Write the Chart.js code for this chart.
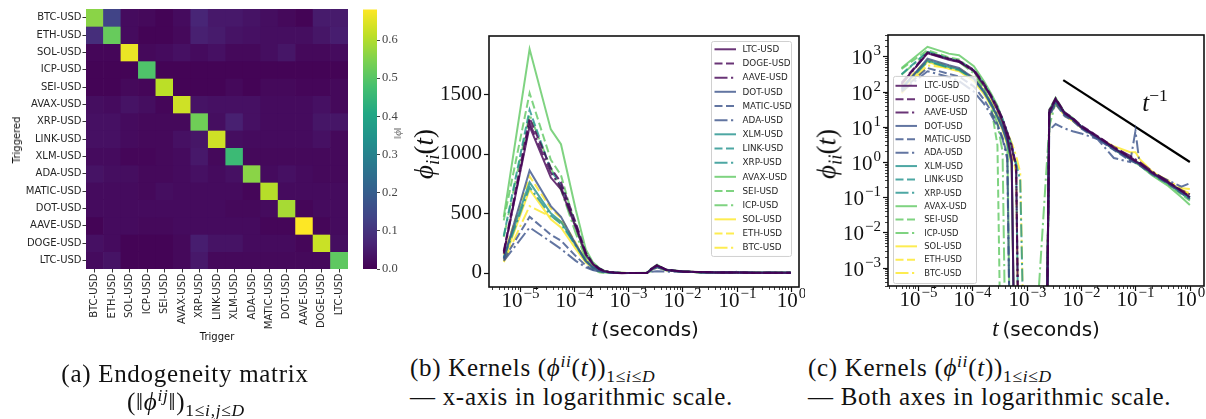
<!DOCTYPE html>
<html>
<head>
<meta charset="utf-8">
<script src="https://cdn.jsdelivr.net/npm/chart.js@4"></script>
<style>
  body { margin: 0; background: #fff; }
  #fig { position: relative; width: 1206px; height: 419px; overflow: hidden; }
  canvas { position: absolute; top: 0; }
  .t { position: absolute; white-space: nowrap; color: #111; line-height: 1; }
  .mid { transform: translate(-50%, -50%); }
  .rot { transform: translate(-50%, -50%) rotate(-90deg); }
  .serif { font-family: "Liberation Serif", "DejaVu Serif", serif; }
  .sans { font-family: "DejaVu Sans", sans-serif; }
  .cap { position: absolute; white-space: nowrap; font-family: "Liberation Serif", serif; font-size: 25px;
         line-height: 29px; letter-spacing: 0.7px; color: #111; }
  sup, sub { font-size: 70%; line-height: 0; }
</style>
</head>
<body>
<div id="fig">
  <canvas id="heat" width="360" height="345" style="left:0"></canvas>
  <canvas id="cbar" width="45" height="345" style="left:355px"></canvas>
  <canvas id="lin" width="405" height="345" style="left:400px"></canvas>
  <canvas id="log" width="401" height="345" style="left:805px"></canvas>

  <div class="t sans rot" style="left:17px;top:140px;font-size:10px">Triggered</div>
  <div class="t sans mid" style="left:217px;top:337px;font-size:10px">Trigger</div>
  <div class="t serif rot" style="left:397px;top:133px;font-size:11px;color:#666">‖<i>ϕ</i>‖</div>

  <div class="t serif rot" style="left:424px;top:154px;font-size:27px"><i>ϕ</i><sub><i>ii</i></sub>(<i>t</i>)</div>
  <div class="t serif rot" style="left:827px;top:154px;font-size:27px"><i>ϕ</i><sub><i>ii</i></sub>(<i>t</i>)</div>
  <div class="t mid" style="left:645px;top:328px"><i class="serif" style="font-size:23px">t</i> <span class="sans" style="font-size:20px">(seconds)</span></div>
  <div class="t mid" style="left:1046px;top:328px"><i class="serif" style="font-size:23px">t</i> <span class="sans" style="font-size:20px">(seconds)</span></div>
  <div class="t serif mid" style="left:1155px;top:102px;font-size:25px"><i>t</i><sup>−1</sup></div>

  <div class="cap" style="left:185px;top:359px;transform:translateX(-50%)">(a) Endogeneity matrix</div>
  <div class="cap" style="left:186px;top:387px;transform:translateX(-50%)">(‖<i>ϕ</i><sup><i>ij</i></sup>‖)<sub>1≤<i>i</i>,<i>j</i>≤<i>D</i></sub></div>
  <div class="cap" style="left:410px;top:353px">(b) Kernels (<i>ϕ</i><sup><i>ii</i></sup>(<i>t</i>))<sub>1≤<i>i</i>≤<i>D</i></sub></div>
  <div class="cap" style="left:410px;top:382px">— x-axis in logarithmic scale.</div>
  <div class="cap" style="left:808px;top:353px">(c) Kernels (<i>ϕ</i><sup><i>ii</i></sup>(<i>t</i>))<sub>1≤<i>i</i>≤<i>D</i></sub></div>
  <div class="cap" style="left:808px;top:382px">— Both axes in logarithmic scale.</div>
</div>

<script>
const SERIF = '"Liberation Serif", "DejaVu Serif", serif';
const SANS = '"DejaVu Sans", sans-serif';
const INK = '#111';

// assets, in the order used by the endogeneity matrix (rows = triggered, cols = trigger)
const assets = ['BTC-USD', 'ETH-USD', 'SOL-USD', 'ICP-USD', 'SEI-USD', 'AVAX-USD', 'XRP-USD', 'LINK-USD',
                'XLM-USD', 'ADA-USD', 'MATIC-USD', 'DOT-USD', 'AAVE-USD', 'DOGE-USD', 'LTC-USD'];

const endo = [
  [0.56, 0.135, 0.02, 0.015, 0.005, 0.02, 0.07, 0.045, 0.045, 0.035, 0.025, 0.015, 0.005, 0.05, 0.05],
  [0.09, 0.52, 0.02, 0.005, 0.005, 0.015, 0.06, 0.05, 0.035, 0.03, 0.025, 0.025, 0.025, 0.04, 0.055],
  [0.01, 0.01, 0.66, 0.015, 0.02, 0.03, 0.02, 0.03, 0.015, 0.015, 0.025, 0.04, 0.015, 0.015, 0.02],
  [0.005, 0.005, 0.005, 0.49, 0.005, 0.005, 0.005, 0.005, 0.005, 0.005, 0.005, 0.005, 0.005, 0.005, 0.005],
  [0.005, 0.005, 0.015, 0.01, 0.61, 0.005, 0.005, 0.005, 0.015, 0.005, 0.015, 0.015, 0.01, 0.01, 0.015],
  [0.025, 0.02, 0.035, 0.025, 0.01, 0.63, 0.035, 0.03, 0.03, 0.03, 0.02, 0.02, 0.02, 0.03, 0.015],
  [0.03, 0.03, 0.02, 0.015, 0.015, 0.015, 0.53, 0.025, 0.06, 0.03, 0.02, 0.02, 0.02, 0.04, 0.04],
  [0.03, 0.03, 0.02, 0.015, 0.015, 0.03, 0.04, 0.63, 0.025, 0.02, 0.02, 0.02, 0.02, 0.03, 0.015],
  [0.02, 0.02, 0.01, 0.01, 0.015, 0.02, 0.045, 0.015, 0.46, 0.015, 0.015, 0.015, 0.015, 0.015, 0.015],
  [0.035, 0.025, 0.025, 0.015, 0.015, 0.02, 0.03, 0.02, 0.03, 0.56, 0.02, 0.03, 0.02, 0.015, 0.015],
  [0.02, 0.02, 0.02, 0.015, 0.025, 0.02, 0.02, 0.02, 0.02, 0.01, 0.605, 0.02, 0.02, 0.02, 0.02],
  [0.02, 0.02, 0.02, 0.02, 0.02, 0.02, 0.02, 0.02, 0.015, 0.015, 0.02, 0.59, 0.01, 0.02, 0.02],
  [0.005, 0.02, 0.02, 0.015, 0.015, 0.02, 0.02, 0.02, 0.02, 0.02, 0.01, 0.01, 0.68, 0.01, 0.02],
  [0.03, 0.02, 0.005, 0.005, 0.005, 0.015, 0.055, 0.035, 0.035, 0.02, 0.02, 0.02, 0.01, 0.625, 0.025],
  [0.02, 0.035, 0.005, 0.005, 0.005, 0.015, 0.045, 0.015, 0.015, 0.015, 0.015, 0.015, 0.015, 0.015, 0.51]
];
const cbarTicks = [0, 0.1, 0.2, 0.3, 0.4, 0.5, 0.6];

// kernel estimates phi_ii(t), t in seconds
const times = [5e-6, 1.5e-5, 3.7e-5, 5.7e-5, 1.07e-4, 1.64e-4, 2.2e-4, 2.9e-4, 3.6e-4, 4.4e-4, 5.3e-4, 6.4e-4,
               7.6e-4, 1e-3, 2.2e-3, 2.6e-3, 3.4e-3, 5e-3, 7e-3, 1e-2, 2e-2, 4e-2, 8e-2, 0.1, 0.12, 0.2, 0.4, 0.7, 1];
const ltc   = [170, 1230, 800, 700, 380, 150, 70, 30, 14, 5, 1.2, -3, -4, -3, -2, 25, 62, 24, 17, 10, 5.2, 2.5, 1.3, 1.05, 0.9, 0.5, 0.26, 0.15, 0.1];
const doge  = [180, 1300, 880, 760, 420, 170, 80, 36, 17, 7, 3, 0.8, -3, -3, -2, 30, 65, 26, 18, 11, 5.5, 2.7, 1.4, 1.1, 0.95, 0.52, 0.27, 0.16, 0.12];
const aave  = [160, 1260, 840, 720, 400, 160, 75, 33, 16, 6.5, 2.5, 0.7, -3, -3, -2, 28, 60, 25, 17, 10.5, 5.4, 2.6, 1.5, 1.2, 1.0, 0.55, 0.28, 0.15, 0.11];
const dot   = [120, 860, 560, 470, 240, 100, 46, 20, 9, 4, 1, -3, -3, -3, -2, 22, 50, 22, 16, 9.5, 4.8, 2.3, 1.2, 1.0, 0.85, 0.48, 0.25, 0.14, 0.1];
const matic = [110, 470, 320, 270, 140, 60, 28, 12, 5, 1.5, -2, -3, -3, -3, -2, 20, 45, 20, 15, 9, 4.5, 2.2, 1.1, 0.95, 0.8, 0.45, 0.24, 0.13, 0.09];
const ada   = [100, 380, 260, 200, 100, 45, 22, 10, 4.5, 1.2, -2, -3, -3, -3, -2, 8, 12, 9, 7.5, 6.5, 4.5, 1.3, 1.0, 7.7, 0.8, 0.5, 0.3, 0.2, 0.25];
const xlm   = [130, 760, 500, 430, 230, 95, 44, 19, 9, 3.5, 0.9, -3, -3, -3, -2, 26, 58, 23, 17, 10, 5, 2.4, 1.25, 1.0, 0.88, 0.48, 0.25, 0.13, 0.09];
const link  = [310, 1370, 860, 740, 400, 165, 78, 35, 17, 7, 3, 0.8, -3, -3, -2, 27, 60, 25, 17, 10.5, 5.2, 2.5, 1.3, 1.05, 0.9, 0.5, 0.26, 0.15, 0.1];
const xrp   = [120, 720, 480, 410, 230, 100, 48, 22, 11, 5, 2.2, 0.9, 0.3, -3, -2, 24, 52, 22, 16, 9.8, 5, 2.4, 1.3, 1.05, 0.9, 0.48, 0.26, 0.14, 0.1];
const avax  = [470, 1880, 1205, 1080, 530, 196, 90, 40, 16, 4, -2, -3, -3, -3, -2, 30, 67, 25, 18, 10, 5, 2.3, 1.2, 0.95, 0.8, 0.42, 0.21, 0.1, 0.06];
const sei   = [440, 1510, 950, 820, 380, 130, 40, 3, -3, -3, -3, -3, -3, -3, -2, 26, 58, 24, 17, 10, 5, 2.4, 1.2, 1.0, 0.85, 0.46, 0.23, 0.12, 0.08];
const icp   = [300, 1330, 880, 700, 330, 120, 45, 12, 2, -3, -3, -3, -3, -3, 0.2, 10, 50, 23, 17, 10, 5, 2.4, 1.25, 1.0, 0.85, 0.46, 0.24, 0.13, 0.09];
const sol   = [100, 700, 450, 380, 200, 85, 40, 18, 8, 3, 0.8, -3, -3, -3, -2, 22, 48, 21, 15, 9.5, 5, 2.8, 1.9, 1.9, 1.2, 0.55, 0.27, 0.15, 0.12];
const eth   = [150, 810, 540, 460, 250, 105, 50, 22, 11, 4.5, 1.8, 0.5, -3, -3, -2, 24, 55, 22, 16, 10, 5, 2.4, 1.3, 1.05, 0.9, 0.5, 0.27, 0.16, 0.13];
const btc   = [90, 560, 470, 430, 240, 110, 55, 26, 13, 7, 3.5, 1.5, 0.5, -3, -2, 20, 45, 21, 15, 9.5, 5, 2.5, 1.3, 1.1, 0.95, 0.52, 0.3, 0.18, 0.17];

// reference slope t^-1
const slopeT = [0.0047, 1];
const slopeY = [213, 1];

const linTicks = [0, 500, 1000, 1500];

const series = [
  ['LTC-USD', ltc], ['DOGE-USD', doge], ['AAVE-USD', aave],
  ['DOT-USD', dot], ['MATIC-USD', matic], ['ADA-USD', ada],
  ['XLM-USD', xlm], ['LINK-USD', link], ['XRP-USD', xrp],
  ['AVAX-USD', avax], ['SEI-USD', sei], ['ICP-USD', icp],
  ['SOL-USD', sol], ['ETH-USD', eth], ['BTC-USD', btc]
];

const VIRIDIS = ['#440154', '#482475', '#414487', '#355f8d', '#2a788e', '#21918c',
                 '#22a884', '#44bf70', '#7ad151', '#bddf26', '#fde725'];
function hexRgb(h) { return [1, 3, 5].map(i => parseInt(h.slice(i, i + 2), 16)); }
function viridis(f, alpha = 1) {
  f = Math.max(0, Math.min(1, f));
  const p = f * (VIRIDIS.length - 1), i = Math.min(Math.floor(p), VIRIDIS.length - 2), t = p - i;
  const a = hexRgb(VIRIDIS[i]), b = hexRgb(VIRIDIS[i + 1]);
  const c = a.map((v, k) => Math.round(v + (b[k] - v) * t));
  return `rgba(${c[0]},${c[1]},${c[2]},${alpha})`;
}

Chart.defaults.animation = false;
Chart.defaults.events = [];
Chart.defaults.plugins.legend.display = false;
Chart.defaults.plugins.tooltip.enabled = false;

// ---------- (a) endogeneity matrix ----------
const vmax = Math.max(...endo.flat());

new Chart(document.getElementById('heat'), {
  type: 'bar',
  data: {
    labels: assets,
    datasets: endo.map((row, i) => ({
      data: assets.map(() => [i, i + 1]),
      backgroundColor: row.map(v => viridis(v / vmax)),
      grouped: false, barPercentage: 1, categoryPercentage: 1, borderWidth: 0
    }))
  },
  options: {
    responsive: false,
    layout: { padding: { top: 9, right: 12, left: 0, bottom: 0 } },
    scales: {
      x: {
        grid: { offset: false, drawOnChartArea: false, tickLength: 3.5, color: '#333' },
        border: { display: false },
        ticks: { autoSkip: false, minRotation: 90, maxRotation: 90, padding: 1, color: '#262626',
                 font: { family: SANS, size: 10 } },
        afterFit: s => { s.height = 76; }
      },
      y: {
        min: 0, max: assets.length, reverse: true,
        afterBuildTicks: s => { s.ticks = assets.map((_, i) => ({ value: i + 0.5 })); },
        grid: { drawOnChartArea: false, tickLength: 3.5, color: '#333' },
        border: { display: false },
        ticks: { callback: (v, i) => assets[i], padding: 1, color: '#262626', font: { family: SANS, size: 10 } },
        afterFit: s => { s.width = 86; }
      }
    }
  }
});

// colour bar
new Chart(document.getElementById('cbar'), {
  type: 'bar',
  data: { labels: [''], datasets: [] },
  options: {
    responsive: false,
    layout: { padding: { top: 9, left: 8, bottom: 76, right: 0 } },
    scales: {
      x: { display: false },
      y: {
        position: 'right', min: 0, max: vmax,
        afterBuildTicks: s => { s.ticks = cbarTicks.map(v => ({ value: v })); },
        grid: { drawOnChartArea: false, tickLength: 3, color: '#444' },
        border: { display: false },
        ticks: { callback: v => v.toFixed(1), padding: 2, color: '#444', font: { family: SERIF, size: 12.5 } },
        afterFit: s => { s.width = 23; }
      }
    }
  },
  plugins: [{
    id: 'cbarFill',
    beforeDraw(chart) {
      const { ctx, chartArea: a } = chart;
      const g = ctx.createLinearGradient(0, a.bottom, 0, a.top);
      VIRIDIS.forEach((c, i) => g.addColorStop(i / (VIRIDIS.length - 1), c));
      ctx.fillStyle = g;
      ctx.fillRect(a.left, a.top, a.width, a.height);
    }
  }]
});

// ---------- (b), (c) kernels ----------
function tickList(s) {
  if (s.type !== 'logarithmic') return s.ticks.map(t => ({ v: t.value, major: true }));
  const out = [];
  const k0 = Math.floor(Math.log10(s.min)), k1 = Math.ceil(Math.log10(s.max));
  for (let k = k0; k <= k1; k++) {
    for (let m = 1; m <= 9; m++) {
      const v = m * Math.pow(10, k);
      if (v >= s.min && v <= s.max) out.push({ v, major: m === 1, k });
    }
  }
  return out;
}

function drawPow(ctx, x, y, k, align) {
  const base = '10', exp = (k < 0 ? '\u2212' : '') + Math.abs(k);
  ctx.font = `21px ${SERIF}`;
  const wb = ctx.measureText(base).width;
  ctx.font = `15px ${SERIF}`;
  const we = ctx.measureText(exp).width;
  const total = wb + 1 + we;
  const left = align === 'center' ? x - total / 2 : x - total;
  ctx.textAlign = 'left';
  ctx.textBaseline = 'alphabetic';
  ctx.font = `21px ${SERIF}`;
  ctx.fillText(base, left, y);
  ctx.font = `15px ${SERIF}`;
  ctx.fillText(exp, left + wb + 1, y - 9);
}

const axesFrame = {
  id: 'axesFrame',
  afterDatasetsDraw(chart) {
    const { ctx, chartArea: a, scales } = chart;
    ctx.save();
    ctx.strokeStyle = INK;
    ctx.fillStyle = INK;
    for (const t of tickList(scales.x)) {
      const px = Math.round(scales.x.getPixelForValue(t.v)) + 0.5;
      ctx.lineWidth = t.major ? 1.2 : 0.8;
      ctx.beginPath(); ctx.moveTo(px, a.bottom); ctx.lineTo(px, a.bottom + (t.major ? 5 : 3)); ctx.stroke();
      if (t.major) drawPow(ctx, px, a.bottom + 20, t.k, 'center');
    }
    for (const t of tickList(scales.y)) {
      const py = Math.round(scales.y.getPixelForValue(t.v)) + 0.5;
      ctx.lineWidth = t.major ? 1.2 : 0.8;
      ctx.beginPath(); ctx.moveTo(a.left, py); ctx.lineTo(a.left - (t.major ? 5 : 3), py); ctx.stroke();
      if (t.major && t.k !== undefined) drawPow(ctx, a.left - 7, py + 7, t.k, 'right');
    }
    ctx.lineWidth = 1.6;
    ctx.strokeRect(a.left, a.top, a.width, a.height);
    ctx.restore();
  }
};

const kernelLegend = {
  id: 'kernelLegend',
  afterDraw(chart, args, o) {
    const { ctx, chartArea: a } = chart;
    const items = chart.data.datasets.filter(d => d.label);
    const h = o.pad * 2 + o.rowH * items.length;
    const x0 = o.corner === 'ne' ? a.right - o.dx - o.width : a.left + o.dx;
    const y0 = o.corner === 'ne' ? a.top + o.dy : a.bottom - o.dy - h;
    ctx.save();
    ctx.beginPath();
    ctx.roundRect(x0 + 0.5, y0 + 0.5, o.width, h, 2);
    ctx.fillStyle = 'rgba(255,255,255,0.8)';
    ctx.fill();
    ctx.strokeStyle = '#d0d0d0';
    ctx.lineWidth = 1;
    ctx.stroke();
    ctx.font = `${o.size}px ${SANS}`;
    ctx.textBaseline = 'middle';
    items.forEach((d, i) => {
      const y = y0 + o.pad + o.rowH * (i + 0.5);
      ctx.strokeStyle = d.borderColor;
      ctx.lineWidth = d.borderWidth;
      ctx.setLineDash(d.borderDash);
      ctx.beginPath(); ctx.moveTo(x0 + o.lineX, y); ctx.lineTo(x0 + o.lineX + o.lineW, y); ctx.stroke();
      ctx.fillStyle = '#262626';
      ctx.fillText(d.label, x0 + o.textX, y + 0.5);
    });
    ctx.restore();
  }
};

const DASHES = [[], [8, 3.5], [13, 3.5, 2.2, 3.5]];

function kernelSets(logY) {
  return series.map(([name, vals], i) => ({
    label: name,
    data: times.map((t, k) => ({ x: t, y: logY ? (vals[k] > 0 ? vals[k] : 1e-9) : vals[k] })),
    borderColor: viridis(Math.floor(i / 3) / 4, 0.8),
    borderDash: DASHES[i % 3],
    borderWidth: 2,
    pointRadius: 0,
    tension: 0,
    clip: 0
  }));
}

const hiddenAxis = { grid: { display: false, drawTicks: false }, border: { display: false }, ticks: { display: false } };

new Chart(document.getElementById('lin'), {
  type: 'line',
  data: { datasets: kernelSets(false) },
  options: {
    responsive: false,
    layout: { padding: { top: 36, right: 6, left: 0, bottom: 0 } },
    scales: {
      x: { ...hiddenAxis, type: 'logarithmic', min: Math.pow(10, -5.574), max: Math.pow(10, 0.154),
           afterFit: s => { s.height = 58; } },
      y: {
        type: 'linear', min: -120, max: 1990,
        afterBuildTicks: s => { s.ticks = linTicks.map(v => ({ value: v })); },
        grid: { display: false, drawTicks: false }, border: { display: false },
        ticks: { padding: 7, color: INK, font: { family: SERIF, size: 21 }, callback: v => String(v) },
        afterFit: s => { s.width = 89; }
      }
    },
    plugins: {
      kernelLegend: { corner: 'ne', dx: 8, dy: 5, width: 80, rowH: 14.17, pad: 1.2,
                      lineX: 3.5, lineW: 21.5, textX: 31.5, size: 8.8 }
    }
  },
  plugins: [axesFrame, kernelLegend]
});

const logSets = kernelSets(true);
logSets.push({
  data: slopeT.map((t, k) => ({ x: t, y: slopeY[k] })),
  borderColor: '#000', borderWidth: 2.2, pointRadius: 0, borderDash: [], clip: 0
});

new Chart(document.getElementById('log'), {
  type: 'line',
  data: { datasets: logSets },
  options: {
    responsive: false,
    layout: { padding: { top: 35, right: 2, left: 0, bottom: 0 } },
    scales: {
      x: { ...hiddenAxis, type: 'logarithmic', min: Math.pow(10, -5.55), max: Math.pow(10, 0.26),
           afterFit: s => { s.height = 59; } },
      y: { ...hiddenAxis, type: 'logarithmic', min: Math.pow(10, -3.47), max: Math.pow(10, 3.61),
           afterFit: s => { s.width = 83; } }
    },
    plugins: {
      kernelLegend: { corner: 'sw', dx: 5, dy: 3, width: 83, rowH: 13.38, pad: 3.2,
                      lineX: 2.5, lineW: 21.5, textX: 31.3, size: 8.4 }
    }
  },
  plugins: [axesFrame, kernelLegend]
});
</script>
</body>
</html>
